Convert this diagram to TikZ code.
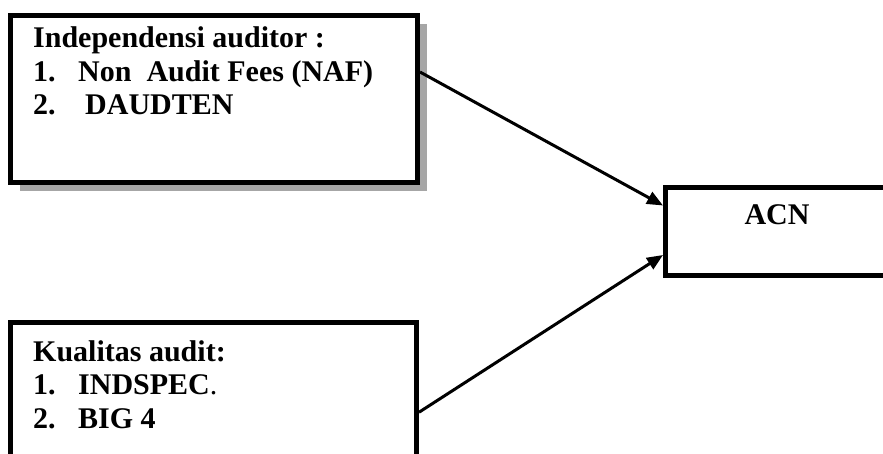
\documentclass[tikz,border=0pt]{standalone}
\usepackage{fontspec}
\setmainfont{Liberation Serif}
\usetikzlibrary{arrows.meta,shadows}

\begin{document}
\begin{tikzpicture}[x=1pt, y=-1pt, font=\fontsize{30}{33.5}\selectfont\bfseries]
	\useasboundingbox (0,0) rectangle (883,454);

	% Boxes
	\begin{scope}[every node/.style={rectangle, draw, line width=5pt, inner sep=0pt, fill=white}]
		\node (I) at (214,99) [minimum width=407pt, minimum height=167pt,
			drop shadow={shadow xshift=9pt, shadow yshift=-9pt, fill=black!35, opacity=1}] {};
		\node (K) at (213.5,396.25) [minimum width=406pt, minimum height=147.5pt] {};
		\node (ACN) at (787.75,231.5) [minimum width=244.5pt, minimum height=88pt] {};
	\end{scope}

	% Texts (base = last line)
	\begin{scope}[every node/.style={align=left, inner sep=0pt}]
		\node (Itext) at (33,115) [anchor=base west] {Independensi auditor :\\
			\makebox[45pt][l]{1.}Non\ \ Audit Fees (NAF)\\
			\makebox[52pt][l]{2.}DAUDTEN};
		\node (Ktext) at (33,428) [anchor=base west] {Kualitas audit:\\
			\makebox[45pt][l]{1.}INDSPEC{\mdseries .}\\
			\makebox[45pt][l]{2.}BIG 4};
		\node (ACNtext) at (777,225) [anchor=base] {ACN};
	\end{scope}

	% Arrows
	\begin{scope}[every edge/.style={draw, line width=3pt}]
		\path [-{Triangle[length=16pt,width=13pt]}] ([yshift=27pt]I.east) edge ([yshift=26pt]ACN.west);
		\path [-{Triangle[length=16pt,width=13pt]}] ([yshift=-16pt]K.east) edge ([yshift=-23.5pt]ACN.west);
	\end{scope}
\end{tikzpicture}
\end{document}
